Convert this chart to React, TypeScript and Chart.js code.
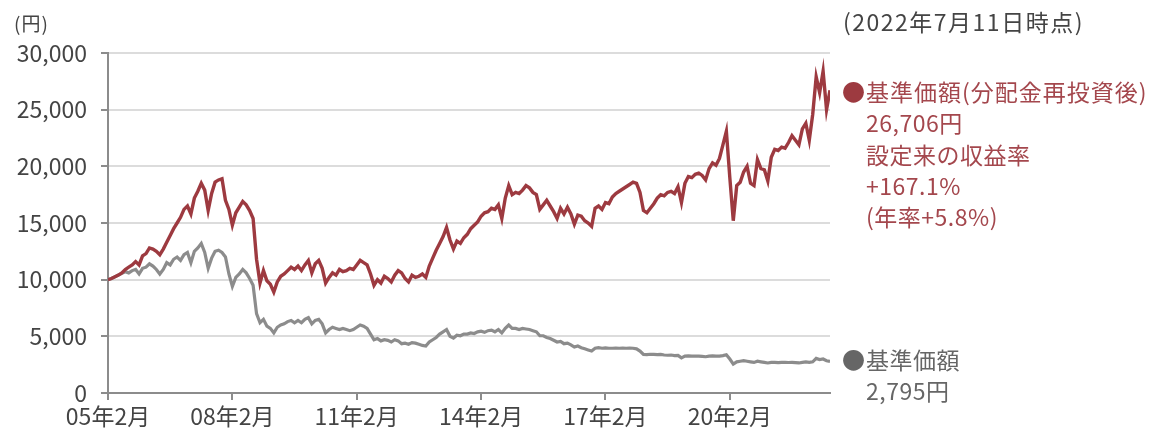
import React, { useEffect, useRef } from "react";
import { Chart, registerables } from "chart.js";

Chart.register(...registerables);

// month index 0 = 2005年2月, 209 = 2022年7月
const xTickMonths = [0, 36, 72, 108, 144, 180];
const xTickLabels = ["05年2月", "08年2月", "11年2月", "14年2月", "17年2月", "20年2月"];
const yTicks = [0, 5000, 10000, 15000, 20000, 25000, 30000];

// 基準価額（分配金再投資後）
const reinvestedNav = [
  10000, 10100, 10250, 10400, 10600, 10900, 11100, 11300, 11600, 11300,
  12100, 12300, 12800, 12700, 12500, 12200, 12700, 13300, 13900, 14500,
  15000, 15500, 16200, 16500, 15800, 17200, 17800, 18500, 17900, 16100,
  17600, 18600, 18800, 18900, 17000, 16200, 14800, 15900, 16400, 16900,
  16600, 16100, 15400, 11800, 9700, 10800, 9900, 9600, 8900, 9800,
  10300, 10500, 10800, 11100, 10900, 11200, 10800, 11300, 11700, 10600,
  11400, 11700, 11000, 9700, 10200, 10600, 10400, 10900, 10700, 10800,
  11000, 10900, 11300, 11700, 11500, 11300, 10500, 9500, 10000, 9700,
  10300, 10100, 9800, 10400, 10800, 10600, 10100, 9800, 10400, 10200,
  10300, 10500, 10200, 11200, 11900, 12600, 13200, 13800, 14600, 13500,
  12700, 13400, 13200, 13700, 14000, 14500, 14800, 15100, 15600, 15900,
  16000, 16300, 16200, 16600, 15400, 17200, 18300, 17500, 17700, 17600,
  17900, 18300, 18100, 17700, 17500, 16200, 16600, 17000, 16500, 16000,
  15400, 16300, 15800, 16400, 15800, 14900, 15700, 15600, 15200, 15000,
  14700, 16300, 16500, 16200, 16800, 16700, 17300, 17600, 17800, 18000,
  18200, 18400, 18600, 18500, 17700, 16100, 15900, 16300, 16700, 17200,
  17500, 17400, 17700, 17800, 17600, 18200, 16800, 18500, 19100, 19000,
  19300, 19400, 19200, 18800, 19800, 20300, 20100, 20700, 21900, 23100,
  19000, 15200, 18300, 18600, 19500, 20000, 18500, 18300, 20600, 19800,
  19700, 18700, 20800, 21500, 21400, 21700, 21600, 22100, 22700, 22300,
  21900, 23300, 23800, 22300, 24600, 27900, 26500, 28400, 25000, 26706,
];

// 基準価額
const nav = [
  10000, 10100, 10250, 10400, 10550, 10700, 10600, 10800, 10900, 10500,
  11000, 11100, 11400, 11200, 10900, 10500, 10900, 11500, 11300, 11800,
  12000, 11700, 12200, 12400, 11500, 12500, 12800, 13200, 12400, 11000,
  11900, 12500, 12600, 12400, 12000, 10500, 9400, 10200, 10500, 10900,
  10600, 10100, 9500, 7000, 6200, 6500, 5900, 5700, 5300, 5800,
  6000, 6100, 6300, 6400, 6200, 6400, 6200, 6500, 6650, 6100,
  6400, 6500, 6100, 5300, 5600, 5800, 5700, 5600, 5700, 5600,
  5500, 5600, 5800, 6000, 5900, 5700, 5200, 4700, 4800, 4600,
  4700, 4650, 4500, 4700, 4600, 4350, 4400, 4300, 4450, 4400,
  4300, 4200, 4150, 4500, 4700, 4900, 5200, 5400, 5600, 5000,
  4850, 5100, 5050, 5200, 5200, 5300, 5250, 5400, 5450, 5350,
  5500, 5550, 5400, 5600, 5300, 5700, 6000, 5700, 5700, 5600,
  5700, 5650, 5600, 5500, 5400, 5050, 5050, 4900, 4800, 4650,
  4500, 4550, 4350, 4400, 4250, 4050, 4150, 4000, 3900, 3800,
  3700, 3950, 4000, 3950, 3980, 3950, 3950, 3970, 3950, 3960,
  3950, 3970, 3950, 3900, 3700, 3400, 3380, 3420, 3400, 3380,
  3400, 3350, 3330, 3350, 3300, 3320, 3100, 3250, 3270, 3250,
  3260, 3250, 3230, 3200, 3250, 3280, 3250, 3260, 3300, 3380,
  3000, 2550, 2750, 2800, 2850, 2800, 2750, 2700, 2800, 2750,
  2700, 2650, 2700, 2700, 2680, 2700, 2700, 2690, 2700, 2680,
  2650, 2700, 2750, 2700, 2750, 3050, 2950, 3000, 2850, 2795,
];

const asOfLabel = "(2022年7月11日時点)";
const unitLabel = "(円)";
const redLegend = ["●基準価額(分配金再投資後)", "26,706円", "設定来の収益率", "+167.1%", "(年率+5.8%)"];
const grayLegend = ["●基準価額", "2,795円"];

const RED = "#9d3a40";
const RED_TEXT = "#a4474d";
const GRAY = "#8c8c8c";
const FONT = "'Noto Sans CJK JP', 'Noto Sans', sans-serif";

export default function App() {
  const ref = useRef<HTMLCanvasElement | null>(null);

  useEffect(() => {
    if (!ref.current) return;
    const textPlugin = {
      id: "texts",
      afterDraw(chart: any) {
        const ctx = chart.ctx as any;
        ctx.save();
        ctx.textBaseline = "middle";
        ctx.textAlign = "left";
        ctx.fillStyle = "#444";
        ctx.font = `23px ${FONT}`;
        ctx.letterSpacing = "1.5px";
        ctx.fillText(asOfLabel, 843, 22);
        ctx.letterSpacing = "1px";
        ctx.font = `19px ${FONT}`;
        ctx.fillText(unitLabel, 14, 24);

        ctx.font = `23px ${FONT}`;
        ctx.letterSpacing = "0.5px";
        const redY = [92, 123, 155, 186, 217];
        redLegend.forEach((t, i) => {
          if (i === 0) {
            ctx.fillStyle = RED;
            ctx.fillText("●", 842, redY[0]);
            ctx.fillStyle = RED_TEXT;
            ctx.letterSpacing = "1px";
            ctx.fillText(t.slice(1), 866, redY[0]);
            ctx.letterSpacing = "0.5px";
          } else {
            ctx.fillStyle = RED_TEXT;
            ctx.fillText(t, 866, redY[i]);
          }
        });
        const grayY = [360, 391];
        ctx.fillStyle = "#666";
        grayLegend.forEach((t, i) => {
          if (i === 0) {
            ctx.fillText("●", 842, grayY[0]);
            ctx.fillText(t.slice(1), 866, grayY[0]);
          } else {
            ctx.fillText(t, 866, grayY[i]);
          }
        });
        ctx.restore();
      },
    };

    const chart = new Chart(ref.current, {
      type: "line",
      data: {
        datasets: [
          {
            label: "基準価額（分配金再投資後）",
            data: reinvestedNav.map((v, i) => ({ x: i, y: v })),
            borderColor: RED,
            borderWidth: 3.4,
            pointRadius: 0,
            tension: 0,
          },
          {
            label: "基準価額",
            data: nav.map((v, i) => ({ x: i, y: v })),
            borderColor: GRAY,
            borderWidth: 3.2,
            pointRadius: 0,
            tension: 0,
          },
        ],
      },
      options: {
        animation: false,
        responsive: false,
        maintainAspectRatio: false,
        layout: { padding: { top: 53, right: 321, left: 0, bottom: 0 } },
        plugins: { legend: { display: false }, tooltip: { enabled: false } },
        scales: {
          x: {
            type: "linear",
            min: 0,
            max: 209,
            afterFit(scale: any) {
              scale.height = 39;
            },
            afterBuildTicks(scale: any) {
              scale.ticks = xTickMonths.map((v) => ({ value: v }));
            },
            border: { color: "#8c8c8c", width: 2 },
            grid: { drawOnChartArea: false, tickLength: 7, tickColor: "#8c8c8c", lineWidth: 2 },
            ticks: {
              autoSkip: false,
              maxRotation: 0,
              padding: 2,
              color: "#444",
              font: { family: FONT, size: 23 },
              callback: (v: any) => {
                const idx = xTickMonths.indexOf(Number(v));
                return idx >= 0 ? xTickLabels[idx] : "";
              },
            },
          },
          y: {
            min: 0,
            max: 30000,
            afterFit(scale: any) {
              scale.width = 108;
            },
            afterBuildTicks(scale: any) {
              scale.ticks = yTicks.map((v) => ({ value: v }));
            },
            border: { color: "#8c8c8c", width: 2 },
            grid: { color: "#dcdcdc", lineWidth: 2, tickLength: 7, tickColor: "#8c8c8c" },
            ticks: {
              padding: 14,
              color: "#444",
              font: { family: FONT, size: 23 },
              callback: (v: any) => Number(v).toLocaleString("en-US"),
            },
          },
        },
      },
      plugins: [textPlugin],
    });
    return () => chart.destroy();
  }, []);

  return (
    <div style={{ position: "absolute", left: 0, top: 0, width: 1151, height: 432, background: "#fff" }}>
      <canvas ref={ref} width={1151} height={432} style={{ width: 1151, height: 432, display: "block" }} />
    </div>
  );
}
